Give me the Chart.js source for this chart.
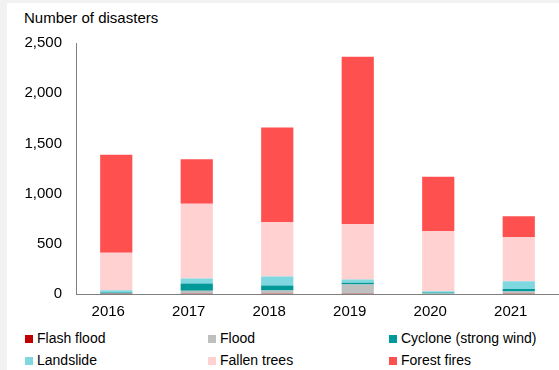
<!DOCTYPE html>
<html>
<head>
<meta charset="utf-8">
<script src="https://cdn.jsdelivr.net/npm/chart.js@4"></script>
<style>
  html, body { margin: 0; padding: 0; }
  body { width: 559px; height: 370px; background: #f2f2f2; position: relative; overflow: hidden; font-family: "Liberation Sans", Arial, sans-serif; }
  #panel { position: absolute; left: 7px; top: 3px; width: 552px; height: 367px; background: #fff; }
  #ytitle { position: absolute; left: 24px; top: 9px; font-size: 15px; color: #000; }
  #wrap { position: absolute; left: 7px; top: 20px; width: 552px; height: 310px; }
  .leg { position: absolute; font-size: 14px; color: #000; line-height: 16px; white-space: nowrap; }
  .leg span { display: inline-block; width: 8px; height: 8px; margin-right: 4px; vertical-align: 0px; }
</style>
</head>
<body>
<div id="panel"></div>
<div id="ytitle">Number of disasters</div>
<div id="wrap"><canvas id="disastersChart"></canvas></div>
<div id="legend"></div>
<script>
// Chart data
const years = ['2016', '2017', '2018', '2019', '2020', '2021'];
const flashFlood = [2, 2, 2, 2, 1, 2];
const flood = [3, 30, 33, 93, 3, 22];
const cyclone = [10, 73, 50, 17, 10, 27];
const landslide = [23, 50, 90, 33, 14, 77];
const fallenTrees = [372, 745, 540, 552, 600, 440];
const forestFires = [978, 442, 943, 1665, 540, 206];
const yTicks = [0, 500, 1000, 1500, 2000, 2500];

const seriesNames = ['Flash flood', 'Flood', 'Cyclone (strong wind)', 'Landslide', 'Fallen trees', 'Forest fires'];
const seriesValues = [flashFlood, flood, cyclone, landslide, fallenTrees, forestFires];
const seriesColors = ['#c00000', '#bfbfbf', '#009999', '#7fd8e0', '#ffd1d1', '#ff5050'];

const datasets = seriesNames.map((name, i) => ({
    label: name,
    data: seriesValues[i],
    backgroundColor: seriesColors[i],
    borderWidth: 0,
    barPercentage: 0.4,
    categoryPercentage: 1.0
}));

// legend as html, 3 columns x 2 rows
const legendCols = [25, 208, 389];
const legendRows = [330, 352];
const legend = document.getElementById('legend');
seriesNames.forEach((name, i) => {
    const div = document.createElement('div');
    div.className = 'leg';
    div.style.left = legendCols[i % 3] + 'px';
    div.style.top = legendRows[Math.floor(i / 3)] + 'px';
    div.innerHTML = '<span style="background:' + seriesColors[i] + '"></span>' + name;
    legend.appendChild(div);
});

const ctx = document.getElementById('disastersChart').getContext('2d');
const chart = new Chart(ctx, {
    type: 'bar',
    data: { labels: years, datasets: datasets },
    options: {
        responsive: true,
        maintainAspectRatio: false,
        animation: false,
        layout: { padding: { top: 4, right: 0, bottom: 0, left: 0 } },
        plugins: {
            legend: { display: false },
            tooltip: { enabled: false }
        },
        scales: {
            x: {
                stacked: true,
                grid: { display: false, drawTicks: false },
                border: { color: '#808080', width: 1 },
                ticks: {
                    color: '#000',
                    font: { family: 'Liberation Sans', size: 15 },
                    padding: 9,
                    labelOffset: -8
                }
            },
            y: {
                stacked: true,
                min: 0,
                max: 2500,
                afterFit: function(scale) { scale.width = 69; },
                afterBuildTicks: function(scale) { scale.ticks = yTicks.map(v => ({ value: v })); },
                grid: { display: false, drawTicks: false },
                border: { color: '#808080', width: 1 },
                ticks: {
                    color: '#000',
                    font: { family: 'Liberation Sans', size: 15 },
                    padding: 14,
                    callback: v => v.toLocaleString('en-US')
                }
            }
        }
    }
});
</script>
</body>
</html>
